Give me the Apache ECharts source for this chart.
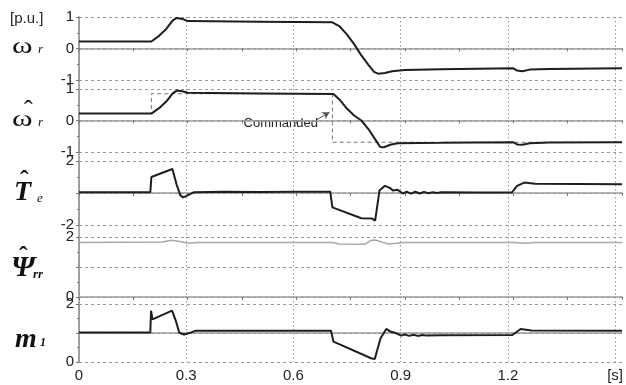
<!DOCTYPE html>
<html>
<head>
<meta charset="utf-8">
<script src="https://cdn.jsdelivr.net/npm/echarts@6/dist/echarts.min.js"></script>
<style>
html, body { margin: 0; padding: 0; background: #fff; }
#chart { width: 626px; height: 385px; }
</style>
</head>
<body>
<div id="chart"></div>
<script>
// Tick label texts
const timeTicks = ['0', '0.3', '0.6', '0.9', '1.2', '[s]'];
const speedTicks = ['-1', '0', '1'];
const torqueTicks = ['-2', '', '2'];
const fluxTicks = ['0', '', '2'];
const indexTicks = ['0', '', '2'];

// Rotor speed [p.u.] vs time [s]
const speed = [
  [0, 0.22], [0.2, 0.22], [0.222, 0.41], [0.241, 0.62], [0.259, 0.89], [0.27, 0.97],
  [0.286, 0.94], [0.3, 0.87], [0.5, 0.85], [0.7, 0.83], [0.72, 0.7], [0.74, 0.45],
  [0.76, 0.14], [0.78, -0.22], [0.8, -0.53], [0.815, -0.74], [0.826, -0.8], [0.845, -0.78],
  [0.865, -0.72], [0.9, -0.68], [1.0, -0.66], [1.2, -0.63], [1.21, -0.7], [1.225, -0.72],
  [1.245, -0.67], [1.3, -0.65], [1.5, -0.63]
];

// Estimated rotor speed
const speedEst = [
  [0, 0.22], [0.2, 0.22], [0.222, 0.4], [0.241, 0.6], [0.259, 0.86], [0.27, 0.95],
  [0.286, 0.93], [0.3, 0.88], [0.5, 0.86], [0.703, 0.84], [0.72, 0.66], [0.74, 0.38],
  [0.76, 0.16], [0.78, 0.0], [0.8, -0.28], [0.82, -0.63], [0.832, -0.84], [0.842, -0.85],
  [0.86, -0.77], [0.88, -0.72], [1.0, -0.71], [1.2, -0.69], [1.21, -0.76], [1.225, -0.77],
  [1.245, -0.72], [1.3, -0.7], [1.5, -0.69]
];

// Commanded speed
const speedCmd = [
  [0, 0.22], [0.2, 0.22], [0.2, 0.85], [0.7, 0.85], [0.7, -0.69], [1.5, -0.69]
];

// Estimated electromagnetic torque
const torque = [
  [0, 0.05], [0.197, 0.05], [0.2, 1.0], [0.258, 1.5], [0.27, 0.5], [0.28, -0.15],
  [0.288, -0.27], [0.3, -0.15], [0.318, 0.05], [0.4, 0.08], [0.5, 0.06], [0.6, 0.08],
  [0.694, 0.08], [0.7, -0.9], [0.78, -1.58], [0.81, -1.6], [0.818, -1.73], [0.824, -0.8],
  [0.83, 0.15], [0.845, 0.45], [0.85, 0.55], [0.86, 0.3], [0.867, 0.15], [0.88, 0.2],
  [0.895, -0.03], [0.905, 0.08], [0.917, -0.04], [0.929, 0.08], [0.941, -0.03], [0.953, 0.07],
  [0.965, -0.02], [0.977, 0.05], [0.989, 0.0], [1.001, 0.04], [1.1, 0.03], [1.196, 0.03],
  [1.21, 0.45], [1.23, 0.65], [1.26, 0.58], [1.5, 0.55]
];

// Estimated rotor flux
const flux = [
  [0, 1.82], [0.23, 1.83], [0.254, 1.89], [0.275, 1.86], [0.3, 1.79], [0.33, 1.82],
  [0.7, 1.82], [0.72, 1.77], [0.79, 1.76], [0.805, 1.88], [0.817, 1.9], [0.83, 1.86],
  [0.853, 1.77], [0.875, 1.79], [0.895, 1.82], [1.2, 1.82], [1.23, 1.79], [1.26, 1.82],
  [1.5, 1.82]
];

// Modulation index
const modIndex = [
  [0, 1.02], [0.197, 1.02], [0.199, 1.77], [0.203, 1.47], [0.257, 1.77], [0.268, 1.4],
  [0.277, 1.01], [0.29, 0.95], [0.31, 1.02], [0.323, 1.08], [0.5, 1.08], [0.696, 1.08],
  [0.703, 0.7], [0.807, 0.13], [0.817, 0.1], [0.833, 0.82], [0.849, 1.14], [0.86, 1.05],
  [0.872, 1.01], [0.89, 0.91], [0.9, 0.95], [0.912, 0.9], [0.924, 0.94], [0.936, 0.9],
  [0.948, 0.93], [0.96, 0.91], [1.0, 0.92], [1.197, 0.93], [1.22, 1.14], [1.25, 1.09],
  [1.5, 1.08]
];

const panels = [
  { top: 17, height: 63, min: -1, max: 1, interval: 1, ticks: speedTicks },
  { top: 89, height: 63, min: -1, max: 1, interval: 1, ticks: speedTicks },
  { top: 161, height: 64, min: -2, max: 2, interval: 2, ticks: torqueTicks },
  { top: 237, height: 60, min: 0, max: 2, interval: 1, ticks: fluxTicks },
  { top: 304, height: 58, min: 0, max: 2, interval: 1, ticks: indexTicks }
];

const axisGray = '#9a9a9a';
const sans = 'Liberation Sans, Arial, sans-serif';
const serif = 'Liberation Serif, Times New Roman, serif';

const grids = panels.map(p => ({ left: 79, right: 4, top: p.top, height: p.height }));
grids.push({ left: 79, right: 4, top: 17, height: 345 });

const xAxes = panels.map((p, i) => ({
  gridIndex: i, type: 'value', min: 0, max: 1.5, interval: 0.15,
  axisLine: { show: i < 4, onZero: true, lineStyle: { color: axisGray, width: 1.5 } },
  axisTick: { show: i < 4, length: 3, lineStyle: { color: '#777' } },
  axisLabel: { show: false },
  splitLine: { show: false }
}));
xAxes.push({
  gridIndex: 5, type: 'value', min: 0, max: 1.5, interval: 0.3,
  axisLine: { show: false }, axisTick: { show: false },
  axisLabel: {
    fontSize: 15, color: '#222', fontFamily: sans, margin: 6,
    formatter: (v, i) => timeTicks[i]
  },
  splitLine: { show: true, lineStyle: { color: '#999', type: [1.5, 2.5], width: 1 } }
});

const yAxes = panels.map((p, i) => ({
  gridIndex: i, type: 'value', min: p.min, max: p.max, interval: p.interval,
  axisLine: { show: true, lineStyle: { color: axisGray, width: 1.5 } },
  axisTick: { show: true, length: 3, lineStyle: { color: '#777' } },
  minorTick: { show: true, splitNumber: 2, length: 2, lineStyle: { color: '#777' } },
  axisLabel: {
    fontSize: 15, color: '#222', fontFamily: sans, margin: 5,
    formatter: (v, k) => p.ticks[k]
  },
  splitLine: { show: true, lineStyle: { color: '#999', type: [3, 3], width: 1 } }
}));
yAxes.push({
  gridIndex: 5, type: 'value', min: 0, max: 1,
  axisLine: { show: true, lineStyle: { color: axisGray, width: 1.5 } },
  axisTick: { show: false }, axisLabel: { show: false }, splitLine: { show: false }
});

function trace(data, idx, color, width, extra) {
  return Object.assign({
    type: 'line', data: data, xAxisIndex: idx, yAxisIndex: idx,
    showSymbol: false, symbol: 'none', z: 5, silent: true,
    lineStyle: { color: color, width: width }
  }, extra || {});
}

const option = {
  animation: false,
  backgroundColor: '#fff',
  grid: grids,
  xAxis: xAxes,
  yAxis: yAxes,
  series: [
    trace(speed, 0, '#1e1e1e', 2),
    trace(speedCmd, 1, '#777', 1, {
      z: 4,
      lineStyle: { color: '#777', width: 1, type: [4, 3] },
      markLine: {
        silent: true, symbol: ['none', 'arrow'], symbolSize: [6, 7],
        lineStyle: { color: '#555', width: 1, type: 'solid' },
        label: { show: false },
        data: [[{ coord: [0.656, 0.02] }, { coord: [0.692, 0.26] }]]
      }
    }),
    trace(speedEst, 1, '#1e1e1e', 2),
    trace(torque, 2, '#1e1e1e', 2),
    trace(flux, 3, '#a8a8a8', 1.5),
    trace(modIndex, 4, '#1e1e1e', 2, {
      markLine: {
        silent: true, symbol: 'none', label: { show: false },
        lineStyle: { color: axisGray, width: 1.5, type: 'solid' },
        data: [{ yAxis: 1 }]
      }
    })
  ],
  graphic: [
    { type: 'text', left: 10, top: 11, style: { text: '[p.u.]', font: '15px ' + sans, fill: '#222' } },
    // ω_r
    { type: 'text', x: 17, y: 47, scaleX: 1.3, originX: 17, originY: 47,
      style: { text: 'ω', font: '24px ' + serif, fill: '#111', verticalAlign: 'middle' } },
    { type: 'text', x: 38, y: 50, style: { text: 'r', font: 'italic 13px ' + serif, fill: '#111', verticalAlign: 'middle' } },
    // estimated ω_r
    { type: 'text', x: 17, y: 120, scaleX: 1.3, originX: 17, originY: 120,
      style: { text: 'ω', font: '24px ' + serif, fill: '#111', verticalAlign: 'middle' } },
    { type: 'text', x: 24, y: 111, style: { text: 'ˆ', font: '26px ' + serif, fill: '#111', verticalAlign: 'middle' } },
    { type: 'text', x: 38, y: 123, style: { text: 'r', font: 'italic 13px ' + serif, fill: '#111', verticalAlign: 'middle' } },
    // estimated T_e
    { type: 'text', x: 14, y: 193, style: { text: 'T', font: 'italic bold 28px ' + serif, fill: '#111', verticalAlign: 'middle' } },
    { type: 'text', x: 20, y: 181, style: { text: 'ˆ', font: 'bold 26px ' + serif, fill: '#111', verticalAlign: 'middle' } },
    { type: 'text', x: 37, y: 199, style: { text: 'e', font: 'italic 13px ' + serif, fill: '#111', verticalAlign: 'middle' } },
    // estimated Ψ_rr
    { type: 'text', x: 11, y: 268, style: { text: 'Ψ', font: 'italic bold 30px ' + serif, fill: '#111', verticalAlign: 'middle' } },
    { type: 'text', x: 19, y: 257, style: { text: 'ˆ', font: 'bold 26px ' + serif, fill: '#111', verticalAlign: 'middle' } },
    { type: 'text', x: 33, y: 275, style: { text: 'rr', font: 'italic bold 13px ' + serif, fill: '#111', verticalAlign: 'middle' } },
    // m_1
    { type: 'text', x: 15, y: 340, style: { text: 'm', font: 'italic bold 28px ' + serif, fill: '#111', verticalAlign: 'middle' } },
    { type: 'text', x: 40, y: 343, style: { text: '1', font: 'italic bold 12px ' + serif, fill: '#111', verticalAlign: 'middle' } },
    // annotation in the estimated-speed panel
    { type: 'text', x: 318, y: 123, style: { text: 'Commanded', font: '13px ' + sans, fill: '#222', align: 'right', verticalAlign: 'middle' } }
  ]
};

const chart = echarts.init(document.getElementById('chart'), null, { renderer: 'canvas' });
chart.setOption(option);
</script>
</body>
</html>
